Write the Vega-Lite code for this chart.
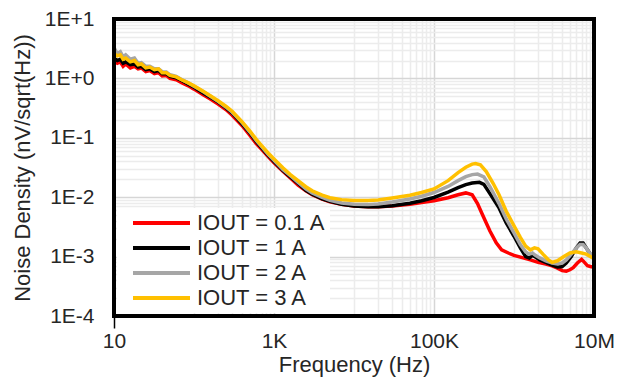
{
  "$schema": "https://vega.github.io/schema/vega-lite/v6.json",
  "width": 480,
  "height": 297,
  "autosize": {"type": "none"},
  "padding": {"left": 114, "top": 19, "right": 25, "bottom": 67},
  "background": "white",
  "config": {
    "view": {"stroke": null},
    "font": "Liberation Sans"
  },
  "datasets": {
    "red": [
      {"f": 10, "v": 2.0}, {"f": 11, "v": 1.8}, {"f": 12, "v": 1.9}, {"f": 13, "v": 1.6}, {"f": 14, "v": 1.75},
      {"f": 16, "v": 1.5}, {"f": 18, "v": 1.6}, {"f": 20, "v": 1.45}, {"f": 22, "v": 1.5}, {"f": 25, "v": 1.3},
      {"f": 28, "v": 1.35}, {"f": 32, "v": 1.2}, {"f": 36, "v": 1.25}, {"f": 40, "v": 1.1}, {"f": 45, "v": 1.12},
      {"f": 50, "v": 1.0}, {"f": 60, "v": 0.95}, {"f": 70, "v": 0.85}, {"f": 85, "v": 0.75}, {"f": 100, "v": 0.66},
      {"f": 130, "v": 0.53}, {"f": 160, "v": 0.45}, {"f": 200, "v": 0.37}, {"f": 250, "v": 0.3}, {"f": 300, "v": 0.24},
      {"f": 400, "v": 0.16}, {"f": 500, "v": 0.11}, {"f": 600, "v": 0.08}, {"f": 700, "v": 0.064}, {"f": 850, "v": 0.048},
      {"f": 1000, "v": 0.038}, {"f": 1300, "v": 0.027}, {"f": 1600, "v": 0.021}, {"f": 2000, "v": 0.016}, {"f": 2500, "v": 0.0128},
      {"f": 3000, "v": 0.011}, {"f": 4000, "v": 0.0093}, {"f": 5000, "v": 0.0084}, {"f": 7000, "v": 0.0076}, {"f": 10000, "v": 0.0071},
      {"f": 15000, "v": 0.0069}, {"f": 20000, "v": 0.0069}, {"f": 30000, "v": 0.0071}, {"f": 50000, "v": 0.0076}, {"f": 70000, "v": 0.0081},
      {"f": 100000, "v": 0.0087}, {"f": 150000, "v": 0.0098}, {"f": 200000, "v": 0.011}, {"f": 250000, "v": 0.0118}, {"f": 300000, "v": 0.011},
      {"f": 350000, "v": 0.0078}, {"f": 400000, "v": 0.0052}, {"f": 500000, "v": 0.0027}, {"f": 600000, "v": 0.0017}, {"f": 700000, "v": 0.0013},
      {"f": 850000, "v": 0.00115}, {"f": 1000000, "v": 0.00105}, {"f": 1300000, "v": 0.00095}, {"f": 1600000, "v": 0.00088}, {"f": 2000000, "v": 0.0008},
      {"f": 2500000, "v": 0.00075}, {"f": 3000000, "v": 0.0007}, {"f": 3500000, "v": 0.00064}, {"f": 4000000, "v": 0.00058}, {"f": 4500000, "v": 0.00057},
      {"f": 5000000, "v": 0.0006}, {"f": 5500000, "v": 0.00065}, {"f": 6200000, "v": 0.00078}, {"f": 7000000, "v": 0.0009}, {"f": 7600000, "v": 0.0008},
      {"f": 8300000, "v": 0.0007}, {"f": 9000000, "v": 0.00068}, {"f": 10000000, "v": 0.00066}
    ],
    "black": [
      {"f": 10, "v": 2.2}, {"f": 11, "v": 2.0}, {"f": 12, "v": 2.1}, {"f": 13, "v": 1.8}, {"f": 14, "v": 1.9},
      {"f": 16, "v": 1.7}, {"f": 18, "v": 1.75}, {"f": 20, "v": 1.55}, {"f": 22, "v": 1.6}, {"f": 25, "v": 1.4},
      {"f": 28, "v": 1.45}, {"f": 32, "v": 1.3}, {"f": 36, "v": 1.35}, {"f": 40, "v": 1.2}, {"f": 45, "v": 1.2},
      {"f": 50, "v": 1.08}, {"f": 60, "v": 1.02}, {"f": 70, "v": 0.92}, {"f": 85, "v": 0.8}, {"f": 100, "v": 0.71},
      {"f": 130, "v": 0.57}, {"f": 160, "v": 0.48}, {"f": 200, "v": 0.4}, {"f": 250, "v": 0.32}, {"f": 300, "v": 0.26},
      {"f": 400, "v": 0.17}, {"f": 500, "v": 0.12}, {"f": 600, "v": 0.086}, {"f": 700, "v": 0.068}, {"f": 850, "v": 0.05},
      {"f": 1000, "v": 0.04}, {"f": 1300, "v": 0.028}, {"f": 1600, "v": 0.022}, {"f": 2000, "v": 0.017}, {"f": 2500, "v": 0.013},
      {"f": 3000, "v": 0.0112}, {"f": 4000, "v": 0.0094}, {"f": 5000, "v": 0.0085}, {"f": 7000, "v": 0.0076}, {"f": 10000, "v": 0.0071},
      {"f": 15000, "v": 0.0069}, {"f": 20000, "v": 0.0069}, {"f": 30000, "v": 0.0072}, {"f": 50000, "v": 0.0079}, {"f": 70000, "v": 0.0087},
      {"f": 100000, "v": 0.0099}, {"f": 150000, "v": 0.0122}, {"f": 200000, "v": 0.0145}, {"f": 250000, "v": 0.0163}, {"f": 300000, "v": 0.0173},
      {"f": 370000, "v": 0.0178}, {"f": 420000, "v": 0.0165}, {"f": 500000, "v": 0.0115}, {"f": 650000, "v": 0.0066}, {"f": 800000, "v": 0.0037},
      {"f": 1000000, "v": 0.0022}, {"f": 1200000, "v": 0.0014}, {"f": 1400000, "v": 0.001}, {"f": 1550000, "v": 0.00095}, {"f": 1700000, "v": 0.00105},
      {"f": 1850000, "v": 0.00098}, {"f": 2100000, "v": 0.00088}, {"f": 2500000, "v": 0.0008}, {"f": 3000000, "v": 0.00072}, {"f": 3500000, "v": 0.00067},
      {"f": 4000000, "v": 0.00068}, {"f": 4500000, "v": 0.00078}, {"f": 5200000, "v": 0.001}, {"f": 6000000, "v": 0.0014}, {"f": 6700000, "v": 0.0017},
      {"f": 7300000, "v": 0.0017}, {"f": 8000000, "v": 0.0014}, {"f": 9000000, "v": 0.0011}, {"f": 10000000, "v": 0.00095}
    ],
    "gray": [
      {"f": 10, "v": 3.3}, {"f": 11, "v": 2.6}, {"f": 12, "v": 2.8}, {"f": 13, "v": 2.3}, {"f": 14, "v": 2.5},
      {"f": 16, "v": 2.1}, {"f": 18, "v": 2.2}, {"f": 20, "v": 1.8}, {"f": 22, "v": 1.85}, {"f": 25, "v": 1.6},
      {"f": 28, "v": 1.6}, {"f": 32, "v": 1.45}, {"f": 36, "v": 1.45}, {"f": 40, "v": 1.3}, {"f": 45, "v": 1.28},
      {"f": 50, "v": 1.15}, {"f": 60, "v": 1.08}, {"f": 70, "v": 0.96}, {"f": 85, "v": 0.84}, {"f": 100, "v": 0.74},
      {"f": 130, "v": 0.6}, {"f": 160, "v": 0.5}, {"f": 200, "v": 0.41}, {"f": 250, "v": 0.33}, {"f": 300, "v": 0.27},
      {"f": 400, "v": 0.18}, {"f": 500, "v": 0.125}, {"f": 600, "v": 0.09}, {"f": 700, "v": 0.071}, {"f": 850, "v": 0.052},
      {"f": 1000, "v": 0.042}, {"f": 1300, "v": 0.029}, {"f": 1600, "v": 0.023}, {"f": 2000, "v": 0.0178}, {"f": 2500, "v": 0.0138},
      {"f": 3000, "v": 0.0118}, {"f": 4000, "v": 0.0099}, {"f": 5000, "v": 0.0089}, {"f": 7000, "v": 0.008}, {"f": 10000, "v": 0.0076},
      {"f": 15000, "v": 0.0075}, {"f": 20000, "v": 0.0077}, {"f": 30000, "v": 0.0083}, {"f": 50000, "v": 0.0093}, {"f": 70000, "v": 0.0104},
      {"f": 100000, "v": 0.012}, {"f": 150000, "v": 0.0152}, {"f": 200000, "v": 0.019}, {"f": 250000, "v": 0.0222}, {"f": 300000, "v": 0.024},
      {"f": 350000, "v": 0.0245}, {"f": 420000, "v": 0.022}, {"f": 500000, "v": 0.015}, {"f": 650000, "v": 0.0078}, {"f": 800000, "v": 0.0043},
      {"f": 1000000, "v": 0.0025}, {"f": 1200000, "v": 0.0016}, {"f": 1400000, "v": 0.0012}, {"f": 1550000, "v": 0.0011}, {"f": 1700000, "v": 0.00115},
      {"f": 1850000, "v": 0.00105}, {"f": 2100000, "v": 0.00095}, {"f": 2500000, "v": 0.00085}, {"f": 3000000, "v": 0.00078}, {"f": 3500000, "v": 0.00075},
      {"f": 4000000, "v": 0.00078}, {"f": 4500000, "v": 0.00088}, {"f": 5200000, "v": 0.0011}, {"f": 6000000, "v": 0.0014}, {"f": 6700000, "v": 0.0016},
      {"f": 7300000, "v": 0.0016}, {"f": 8000000, "v": 0.0014}, {"f": 9000000, "v": 0.0011}, {"f": 10000000, "v": 0.001}
    ],
    "yellow": [
      {"f": 10, "v": 2.6}, {"f": 11, "v": 2.4}, {"f": 12, "v": 2.5}, {"f": 13, "v": 2.1}, {"f": 14, "v": 2.2},
      {"f": 16, "v": 1.9}, {"f": 18, "v": 2.0}, {"f": 20, "v": 1.7}, {"f": 22, "v": 1.75}, {"f": 25, "v": 1.5},
      {"f": 28, "v": 1.55}, {"f": 32, "v": 1.4}, {"f": 36, "v": 1.45}, {"f": 40, "v": 1.25}, {"f": 45, "v": 1.25},
      {"f": 50, "v": 1.12}, {"f": 60, "v": 1.06}, {"f": 70, "v": 0.95}, {"f": 85, "v": 0.84}, {"f": 100, "v": 0.75},
      {"f": 130, "v": 0.61}, {"f": 160, "v": 0.51}, {"f": 200, "v": 0.42}, {"f": 250, "v": 0.34}, {"f": 300, "v": 0.28},
      {"f": 400, "v": 0.185}, {"f": 500, "v": 0.13}, {"f": 600, "v": 0.094}, {"f": 700, "v": 0.074}, {"f": 850, "v": 0.055},
      {"f": 1000, "v": 0.044}, {"f": 1300, "v": 0.031}, {"f": 1600, "v": 0.024}, {"f": 2000, "v": 0.019}, {"f": 2500, "v": 0.015},
      {"f": 3000, "v": 0.0128}, {"f": 4000, "v": 0.0108}, {"f": 5000, "v": 0.0098}, {"f": 7000, "v": 0.0091}, {"f": 10000, "v": 0.0088},
      {"f": 15000, "v": 0.0088}, {"f": 20000, "v": 0.009}, {"f": 30000, "v": 0.0097}, {"f": 50000, "v": 0.0108}, {"f": 70000, "v": 0.012},
      {"f": 100000, "v": 0.0138}, {"f": 150000, "v": 0.019}, {"f": 200000, "v": 0.026}, {"f": 250000, "v": 0.032}, {"f": 300000, "v": 0.036},
      {"f": 330000, "v": 0.037}, {"f": 380000, "v": 0.035}, {"f": 450000, "v": 0.027}, {"f": 550000, "v": 0.017}, {"f": 650000, "v": 0.011},
      {"f": 800000, "v": 0.0058}, {"f": 1000000, "v": 0.0033}, {"f": 1200000, "v": 0.0021}, {"f": 1400000, "v": 0.0015}, {"f": 1600000, "v": 0.0013},
      {"f": 1800000, "v": 0.0014}, {"f": 2000000, "v": 0.00135}, {"f": 2300000, "v": 0.0011}, {"f": 2700000, "v": 0.00088}, {"f": 3000000, "v": 0.0008},
      {"f": 3500000, "v": 0.00085}, {"f": 4200000, "v": 0.001}, {"f": 5000000, "v": 0.00115}, {"f": 6000000, "v": 0.0012}, {"f": 7000000, "v": 0.00115},
      {"f": 8000000, "v": 0.0011}, {"f": 9000000, "v": 0.001}, {"f": 10000000, "v": 0.00092}
    ]
  },
  "layer": [
    {
      "data": {"name": "red"},
      "transform": [{"calculate": "'IOUT = 0.1 A'", "as": "s"}],
      "mark": {"type": "line", "strokeWidth": 3.5, "clip": true},
      "encoding": {
        "x": {
          "field": "f", "type": "quantitative",
          "scale": {"type": "log", "domain": [10, 10000000], "nice": false},
          "axis": {
            "values": [10, 100, 200, 300, 400, 500, 600, 700, 800, 900, 1000, 10000, 20000, 30000, 40000, 50000, 60000, 70000, 80000, 90000, 100000, 1000000, 2000000, 3000000, 4000000, 5000000, 6000000, 7000000, 8000000, 9000000, 10000000],
            "grid": true,
            "gridColor": {"condition": {"test": "indexof([10, 1000, 100000, 10000000], datum.value) >= 0", "value": "#d6d6d6"}, "value": "#ececec"},
            "gridWidth": 1.5,
            "domain": false,
            "ticks": true,
            "tickSize": 12,
            "tickWidth": 1.5,
            "tickColor": {"condition": {"test": "datum.value == 10", "value": "#000000"}, "value": "transparent"},
            "labelExpr": "datum.value == 10 ? '10' : datum.value == 1000 ? '1K' : datum.value == 100000 ? '100K' : datum.value == 10000000 ? '10M' : ''",
            "labelFontSize": 21,
            "labelColor": "#262626",
            "labelPadding": 2,
            "labelOverlap": false,
            "labelFlush": false,
            "labelBound": false,
            "title": "Frequency (Hz)",
            "titleFontSize": 22,
            "titleFontWeight": "normal",
            "titleColor": "#262626",
            "titlePadding": 3
          }
        },
        "y": {
          "field": "v", "type": "quantitative",
          "scale": {"type": "log", "domain": [0.0001, 10], "nice": false},
          "axis": {
            "values": [0.0001, 0.0002, 0.0003, 0.0004, 0.0005, 0.0006, 0.0007, 0.0008, 0.0009, 0.001, 0.002, 0.003, 0.004, 0.005, 0.006, 0.007, 0.008, 0.009, 0.01, 0.02, 0.03, 0.04, 0.05, 0.06, 0.07, 0.08, 0.09, 0.1, 0.2, 0.3, 0.4, 0.5, 0.6, 0.7, 0.8, 0.9, 1, 2, 3, 4, 5, 6, 7, 8, 9, 10],
            "grid": true,
            "gridColor": {"condition": {"test": "indexof([0.0001, 0.001, 0.01, 0.1, 1, 10], datum.value) >= 0", "value": "#d6d6d6"}, "value": "#ececec"},
            "gridWidth": 1.5,
            "domain": false,
            "ticks": false,
            "labelExpr": "datum.value == 10 ? '1E+1' : datum.value == 1 ? '1E+0' : datum.value == 0.1 ? '1E-1' : datum.value == 0.01 ? '1E-2' : datum.value == 0.001 ? '1E-3' : datum.value == 0.0001 ? '1E-4' : ''",
            "labelFontSize": 21,
            "labelColor": "#262626",
            "labelPadding": 20,
            "labelOverlap": false,
            "labelFlush": false,
            "labelBound": false,
            "title": "Noise Density (nV/sqrt(Hz))",
            "titleFontSize": 22,
            "titleFontWeight": "normal",
            "titleColor": "#262626",
            "titlePadding": 10
          }
        },
        "color": {
          "field": "s", "type": "nominal",
          "scale": {"domain": ["IOUT = 0.1 A", "IOUT = 1 A", "IOUT = 2 A", "IOUT = 3 A"], "range": ["#ff0000", "#000000", "#a6a6a6", "#ffc000"]},
          "legend": {
            "title": null,
            "orient": "bottom-left",
            "offset": 3,
            "fillColor": "white",
            "padding": 4,
            "symbolType": "M0.2,0H11.6",
            "symbolSize": 100,
            "symbolStrokeWidth": 4,
            "labelFontSize": 22,
            "labelColor": "#262626",
            "labelOffset": 54,
            "labelLimit": 300,
            "rowPadding": 3
          }
        }
      }
    },
    {
      "data": {"name": "black"},
      "transform": [{"calculate": "'IOUT = 1 A'", "as": "s"}],
      "mark": {"type": "line", "strokeWidth": 3.5, "clip": true},
      "encoding": {
        "x": {"field": "f", "type": "quantitative"},
        "y": {"field": "v", "type": "quantitative"},
        "color": {"field": "s", "type": "nominal"}
      }
    },
    {
      "data": {"name": "gray"},
      "transform": [{"calculate": "'IOUT = 2 A'", "as": "s"}],
      "mark": {"type": "line", "strokeWidth": 3.5, "clip": true},
      "encoding": {
        "x": {"field": "f", "type": "quantitative"},
        "y": {"field": "v", "type": "quantitative"},
        "color": {"field": "s", "type": "nominal"}
      }
    },
    {
      "data": {"name": "yellow"},
      "transform": [{"calculate": "'IOUT = 3 A'", "as": "s"}],
      "mark": {"type": "line", "strokeWidth": 3.5, "clip": true},
      "encoding": {
        "x": {"field": "f", "type": "quantitative"},
        "y": {"field": "v", "type": "quantitative"},
        "color": {"field": "s", "type": "nominal"}
      }
    },
    {
      "data": {"values": [{}]},
      "mark": {"type": "rect", "fill": null, "fillOpacity": 0, "stroke": "#000000", "strokeWidth": 4},
      "encoding": {}
    }
  ]
}
